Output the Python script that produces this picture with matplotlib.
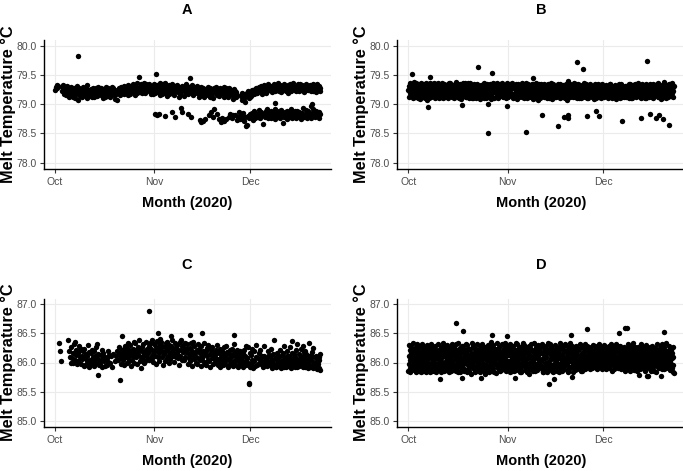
import matplotlib
matplotlib.use("Agg")
import matplotlib.pyplot as plt
import matplotlib.dates as mdates
from matplotlib.ticker import FormatStrFormatter
from datetime import datetime

# ---------------------------------------------------------------- data
# Readings per day: each string = one day's readings, in hundredths of a
# degree above the band's base temperature (day 0 = 1 Oct 2020).
A_UPPER_BASE, A_UPPER_FIRST_DAY = 79.00, 0
A_UPPER = [
    "25 29 33 27 31", "", "30 22 33 18 26", "24 15 29 20 32", "19 27 12 23 30",
    "16 25 21 13 28", "22 10 26 18 31", "08 20 27 14 24", "18 23 12 29 21", "25 15 20 27 11",
    "33 19 24 14 22", "17 26 13 21 28", "23 12 19 27 16", "14 22 29 18 25", "20 28 15 24 11",
    "26 17 22 13 30", "21 14 27 19 24", "12 24 18 29 22", "27 16 23 09 20", "18 07 25 21 28",
    "24 15 30 19 22", "20 27 17 32 25", "29 19 24 15 33", "22 31 18 27 25", "26 34 21 29 16",
    "31 23 37 19 28", "24 46 30 21 35", "33 20 27 36 24", "19 29 34 25 31", "27 35 22 30 18",
    "23 31 26 17 34", "28 19 52 25 33", "21 30 24 37 16", "31 18 27 34 23", "25 36 20 29 14",
    "30 22 33 17 26", "19 28 24 35 21", "26 15 31 22 29", "33 21 27 12 24", "18 29 23 32 26",
    "27 14 30 21 35", "22 31 17 26 28", "29 44 23 19 33", "16 25 30 22 27", "24 32 19 28 13",
    "21 27 15 30 24", "28 18 25 12 22", "19 26 21 29 15", "25 13 28 20 23", "17 24 11 27 21",
    "23 29 16 22 26", "14 21 27 18 25", "26 19 23 13 29", "20 28 15 24 18", "12 22 27 17 21",
    "24 16 20 09 26", "18 23 13 21 15", "", "14 08 19 12 17", "11 18 03 15 20",
    "16 22 10 19 13", "20 14 24 17 22", "23 17 26 20 28", "19 27 22 30 24", "25 21 31 18 27",
    "28 33 23 26 20", "22 30 25 34 27", "29 24 32 21 26", "26 35 28 23 31", "31 24 29 36 22",
    "27 33 21 30 25", "24 29 35 26 32", "30 22 27 33 19", "25 34 28 23 31", "32 26 37 29 24",
    "28 23 31 26 35", "22 30 27 34 25", "33 26 29 21 31", "27 35 24 30 28", "24 31 28 33 22",
    "30 26 34 23 29", "26 32 21 29 35", "29 24 31 27 22",
]

A_LOWER_BASE, A_LOWER_FIRST_DAY = 78.00, 31
A_LOWER = [
    "83 82", "83", "", "80", "", "86", "79", "", "93 86", "",
    "84", "78", "", "", "73 70", "71 74", "", "82 86", "78 91", "84",
    "74 70", "77 72", "75", "79 84", "76 81", "82 73", "78 86 74", "81 75 85", "72 79 62", "65 80 76 84",
    "78 85 73", "88 80 76 83", "84 78 90 81", "77 86 82", "67 83 79 88", "92 80 76 85", "82 89 77 84", "79 86 74 91", "85 81 78 88", "84 77 90 81",
    "68 83 79 87", "80 88 75 84", "86 79 92 82", "77 85 80 89", "83 76 88 81", "79 87 84 74", "85 81 93 78", "82 90 77 86", "88 80 84 97", "76 85 92 82",
    "84 79 88 81", "80 86 77 83",
]
A_OUT_DAY = [7.1, 68.7, 80.2]
A_OUT_TEMP = [79.82, 79.02, 79.00]

B_BASE, B_FIRST_DAY = 79.00, 0
B_DAYS = [
    "24 31 12 36 19 28 15 33 21", "17 29 35 11 26 22 38 14 30", "32 13 25 20 37 16 29 23 10",
    "21 34 15 28 09 31 18 36 25", "14 27 33 20 12 35 24 17 30", "29 11 22 36 18 26 32 13 08",
    "35 20 28 14 31 10 23 37 17", "12 25 34 19 27 15 30 22 36", "26 16 31 11 35 21 13 28 33",
    "19 32 24 37 14 29 10 26 20", "33 13 27 22 16 36 25 11 30", "15 28 35 18 24 12 32 20 27",
    "30 21 10 34 26 17 37 14 23", "22 36 16 29 12 31 19 27 13", "27 11 33 20 35 15 24 38 18",
    "16 30 23 13 28 34 11 21 32", "34 18 26 31 09 23 29 15 36", "20 35 14 25 32 17 37 22 12",
    "13 24 30 16 21 36 27 10 29", "28 15 37 23 13 26 19 33 11", "23 31 10 28 34 14 21 26 17",
    "11 26 19 35 22 29 13 31 24", "31 14 27 09 25 18 33 20 28", "18 33 22 29 11 36 15 25 13",
    "25 10 31 17 28 21 34 12 30", "14 29 24 35 16 31 20 27 09", "32 19 12 26 37 23 10 30 21",
    "21 34 27 13 30 18 25 36 15", "10 23 33 19 27 35 14 28 32", "29 16 21 36 12 25 31 18 24",
    "17 31 26 11 33 20 37 22 13", "26 12 35 23 18 30 15 34 27", "33 20 14 29 36 10 27 17 31",
    "12 27 31 16 24 34 21 09 29", "24 35 18 30 13 26 33 20 16", "30 15 26 21 37 12 19 28 35",
    "19 33 11 27 22 31 14 36 23", "27 10 29 34 16 24 32 13 20", "15 28 21 12 35 18 26 30 09",
    "34 22 16 31 25 11 29 19 36", "21 13 33 26 08 30 17 35 24", "11 31 24 17 29 35 22 14 27",
    "28 18 35 12 23 15 33 26 20", "16 26 10 30 19 34 24 11 32", "31 14 27 21 36 17 28 09 23",
    "23 34 18 13 26 31 12 29 16", "12 25 31 28 15 22 35 19 27", "29 17 22 35 10 27 14 32 21",
    "18 30 13 24 33 16 28 11 25", "26 11 34 19 22 29 08 31 15", "14 27 20 32 12 35 24 18 30",
    "33 21 15 26 30 13 19 36 23", "20 12 29 17 34 24 31 10 27", "27 35 19 11 25 16 33 22 14",
    "10 24 32 28 18 30 13 26 37", "31 16 23 13 35 21 28 11 25", "22 29 11 33 19 26 16 34 18",
    "15 32 27 20 12 31 23 29 09", "28 13 21 35 26 10 33 17 24", "19 26 34 14 30 22 12 28 31",
    "33 11 24 29 17 35 20 14 26", "12 28 18 22 31 15 27 33 20", "26 20 32 10 24 29 13 21 34",
    "21 34 14 27 19 11 31 25 16", "30 15 28 23 12 33 18 26 09", "14 25 20 31 28 16 24 35 22",
    "27 33 11 19 35 21 30 13 28", "17 22 29 12 26 32 15 24 19", "32 13 25 30 16 22 27 10 34",
    "23 29 17 35 11 27 20 31 14", "11 26 33 21 28 14 34 18 25", "29 18 12 25 32 20 23 36 15",
    "20 31 27 16 13 29 11 25 33", "34 14 22 29 24 17 32 21 10", "16 27 35 11 30 25 19 28 22",
    "25 12 19 33 21 35 14 30 27", "13 30 26 18 34 10 28 23 31", "31 23 15 28 20 32 17 35 12",
    "22 36 29 13 27 19 33 24 09", "18 25 10 32 15 28 21 38 26", "35 16 31 24 11 29 26 14 33",
    "27 21 13 35 30 17 34 20 23", "14 32 26 19 36 23 12 29 31",
]
B_OUT_DAY = [1.0, 6.8, 6.0, 16.9, 21.9, 24.8, 24.8, 26.0, 30.7, 36.8, 38.9, 41.9, 46.7,
             48.7, 49.8, 49.8, 49.8, 52.6, 54.7, 55.7, 58.6, 59.7, 66.7, 72.6, 74.7,
             75.5, 77.4, 78.3, 79.5, 81.6]
B_OUT_TEMP = [79.52, 79.46, 78.95, 78.98, 79.63, 78.50, 79.00, 79.54, 78.97, 78.53, 79.44,
              78.82, 78.63, 78.78, 78.82, 78.76, 79.40, 79.72, 79.60, 78.80, 78.89, 78.80,
              78.71, 78.77, 79.74, 78.83, 78.77, 78.82, 78.74, 78.65]

C_BASE, C_FIRST_DAY = 85.50, 1
C_DAYS = [
    "83 69 52", "", "", "89 70 60 50", "76 58 67 49 82", "85 55 72 63 47", "66 52 78 59 71",
    "48 74 61 56 69 44", "73 57 45 65 52", "62 80 50 43 68 55", "54 66 47 71 59", "70 44 61 53 76 49",
    "81 58 28 65 46 52", "47 63 55 71 42 59", "66 52 44 60 56", "58 45 69 51 63", "50 62 42", "64 53",
    "61 70 54 66", "77 20 63 48 58 72", "96 67 54 73 45 61 79", "60 76 49 68 57 84", "71 52 80 63 44 66",
    "55 74 62 85 50 69", "83 59 71 47 65 77", "64 88 53 72 60 41", "76 57 68 82 49 63", "52 70 86 61 74 56",
    "67 79 55 72 84 60", "74 58 88 65 51 70", "81 62 76 48 69 87", "59 73 84 66 53 78 90", "71 86 60 79 45 68",
    "64 77 52 83 70 57", "85 61 74 49 80 66", "56 79 68 88 62 73", "73 51 84 65 77 59", "80 67 58 72 46 86",
    "62 88 71 54 79 68", "77 55 69 83 60 74", "68 81 47 73 64 57", "53 75 84 61 70 44", "85 63 56 78 67 50",
    "60 72 48 82 58 69", "74 54 66 44 79 61", "57 70 83 51 64 47", "69 46 61 75 55 80", "52 77 64 43 71 58",
    "76 59 48 68 62 54", "63 49 72 56 80 45", "55 67 42 74 60 51", "70 53 64 46 58 77", "48 62 79 55 68 43",
    "66 45 57 71 52 63", "59 74 50 64 44 81", "53 68 46 60 72 55", "64 42 58 70 50", "47 61 54 66 43",
    "71 51 62 45 78 57", "58 76 49 15 13 67 43", "63 47 73 55 41", "52 69 44 60 80", "45 58 66 50",
    "71 48 55 62 43", "49 62 78 53 45 58", "57 44 69 51 63 47", "46 60 52 74 41 55", "64 50 88 45 58 42",
    "43 56 48 67 52 61 44", "59 45 72 50 41 63 53", "48 66 54 43 78 57 46", "55 42 61 49 70 44 58",
    "62 50 45 76 53 41 67", "44 87 57 48 64 52 42", "60 47 71 55 43 82 50", "52 64 44 58 49 73 45",
    "46 56 79 42 61 51 68", "70 43 53 65 47 57 41", "49 61 45 84 54 42 63", "57 44 68 51 40 75 48",
    "42 59 50 62 46 56 38", "53 47 60 41 55 37 64",
]
C_OUT_DAY = [29.3, 32.3, 36.2, 42.2, 46.0, 55.9]
C_OUT_TEMP = [86.88, 86.51, 86.46, 86.48, 86.50, 86.47]

D_BASE, D_FIRST_DAY = 85.50, 0
D_DAYS = [
    "35 62 48 80 41 71 55 33 67 44 76", "58 37 74 46 83 52 64 39 70 49 60", "43 69 56 34 77 61 47 82 38 65 53",
    "72 50 36 63 45 79 58 41 68 54 33", "39 81 60 48 70 35 57 75 44 66 51", "64 42 77 53 33 69 46 61 80 37 56",
    "50 73 38 66 57 43 78 34 62 48 71", "82 46 59 36 72 51 65 40 55 76 44", "36 63 49 78 42 67 33 58 71 47 60",
    "57 39 70 45 81 54 38 64 49 74 22", "45 76 52 34 63 71 41 59 83 48 67", "69 35 61 48 74 44 79 52 37 65 56",
    "41 58 80 39 66 53 45 72 60 33 77", "74 47 36 62 54 82 43 68 50 39 63", "53 70 44 77 37 60 73 46 57 81 35",
    "38 65 55 42 71 49 84 34 67 52 61", "62 33 75 57 46 68 40 79 53 44 70", "47 79 41 66 35 58 72 50 63 37 82",
    "70 52 64 34 80 45 59 38 74 56 43", "35 61 49 73 42 67 31 55 83 47 64", "58 44 78 52 39 62 75 41 68 33 53",
    "43 73 57 37 65 50 81 46 60 72 35", "66 38 47 79 55 34 63 70 42 58 76", "51 82 40 61 48 74 36 57 67 45 31",
    "77 46 68 35 59 43 71 53 80 39 62", "40 59 34 72 64 52 45 78 37 66 85", "63 36 75 49 41 80 56 33 69 50 73",
    "48 70 55 67 32 62 47 74 58 83 41", "72 43 61 38 77 46 68 52 35 64 54", "37 65 50 81 44 71 39 60 75 48 57",
    "59 49 84 42 66 35 73 55 46 79 63", "44 76 38 63 53 69 41 82 50 34 70", "68 52 45 74 36 58 78 43 64 56 39",
    "53 35 71 60 47 83 51 37 72 45 66", "81 61 40 55 69 42 64 76 33 59 48", "38 72 57 33 78 49 61 44 67 52 84",
    "62 45 80 51 37 73 54 68 40 77 35", "47 69 34 66 58 41 79 31 63 50 74", "75 38 62 46 82 55 44 70 53 36 60",
    "55 83 49 71 40 64 35 59 77 47 68", "41 57 73 37 61 80 48 65 43 72 52", "70 46 54 79 44 52 67 39 56 82 33",
    "34 66 43 60 75 38 58 74 49 63 45", "59 78 37 48 68 33 71 51 84 42 13", "46 54 81 65 39 57 45 76 36 61 70",
    "73 40 60 34 72 47 63 42 68 55 80", "39 62 52 77 45 69 36 58 74 48 33", "64 48 71 42 57 83 50 37 61 79 44",
    "52 35 66 59 38 74 44 70 46 56 81", "80 57 45 70 51 37 62 48 77 34 65", "36 74 58 39 84 53 71 43 55 66 97",
    "65 42 79 53 47 61 34 72 58 41 69", "48 68 37 63 56 78 46 64 38 73 52", "71 51 59 44 73 40 57 81 50 62 35",
    "43 77 50 67 35 65 48 55 69 44 60", "57 39 82 47 61 52 74 41 63 78 49", "62 46 70 54 43 76 58 38 71 51 67",
    "49 73 56 40 66 59 80 47 64 54 42", "68 55 44 78 52 69 45 73 59 39 75", "41 64 71 57 47 82 53 66 44 61 70",
    "74 48 60 67 38 56 76 50 69 46 58", "55 80 46 63 72 43 61 54 77 38 65", "63 51 74 44 58 70 49 68 40 79 53",
    "46 67 57 81 50 62 35 73 56 45 70", "72 39 64 53 76 47 68 42 60 82 51", "53 74 45 60 41 71 56 79 48 66 100",
    "61 48 79 38 67 54 73 44 63 50 57", "44 70 55 66 48 77 40 59 71 35 64", "69 52 42 75 60 46 81 55 38 67 58",
    "57 36 71 49 64 78 43 62 53 74 47", "40 65 58 83 45 56 70 37 66 51 76", "74 47 63 41 69 54 35 77 48 60 28",
    "52 68 43 72 56 39 64 50 81 45 61", "65 41 77 54 46 71 58 43 67 36 55", "46 73 60 38 80 49 62 75 53 27 69",
    "71 55 44 66 52 76 41 59 68 47 36", "39 62 79 48 63 43 74 56 35 70 58", "58 75 51 34 68 60 45 81 54 66 42",
    "67 44 70 57 40 73 52 64 47 78 26", "50 82 38 61 76 55 67 46 72 39 103", "76 53 64 45 58 83 41 69 56 48 62",
    "43 66 55 79 47 60 72 37 65 52 74", "62 48 71 40 57 67 33 76 45 59 32",
]
D_OUT_DAY = [14.9, 17.0, 26.0, 30.7, 55.7, 67.6, 68.3, 16.7, 22.8, 33.3, 45.5, 51.2, 74.6]
D_OUT_TEMP = [86.68, 86.55, 86.47, 86.45, 86.57, 86.60, 86.60, 85.73, 85.74, 85.73, 85.72, 85.75, 85.77]

TITLES = ["A", "B", "C", "D"]
Y_TICKS_TOP = [78.0, 78.5, 79.0, 79.5, 80.0]
Y_TICKS_BOTTOM = [85.0, 85.5, 86.0, 86.5, 87.0]
X_LABEL = "Month (2020)"
Y_LABEL = "Melt Temperature °C"

# ---------------------------------------------------------------- helpers
START = mdates.date2num(datetime(2020, 10, 1))


def expand(day_strings, first_day, base):
    xs, ys = [], []
    for i, s in enumerate(day_strings):
        vals = s.split()
        n = len(vals)
        for k, v in enumerate(vals):
            xs.append(START + first_day + i + (k + 0.5) / n)
            ys.append(base + int(v) / 100.0)
    return xs, ys


W, H = 683, 471
fig = plt.figure(figsize=(W / 100, H / 100), dpi=100)
fig.patch.set_facecolor("white")

FONT = ["Liberation Sans", "DejaVu Sans"]


def rect(l, r, t, b):
    return [l / W, 1 - b / H, (r - l) / W, (b - t) / H]


panels = [
    dict(title=TITLES[0], rect=rect(43.5, 330.5, 39.9, 168.55), ylim=(77.9, 80.1), yticks=Y_TICKS_TOP,
         bands=[(A_UPPER, A_UPPER_FIRST_DAY, A_UPPER_BASE), (A_LOWER, A_LOWER_FIRST_DAY, A_LOWER_BASE)],
         out=(A_OUT_DAY, A_OUT_TEMP), cx=187, ty=10, ly=8, xly=203),
    dict(title=TITLES[1], rect=rect(396.8, 683.8, 39.9, 168.55), ylim=(77.9, 80.1), yticks=Y_TICKS_TOP,
         bands=[(B_DAYS, B_FIRST_DAY, B_BASE)],
         out=(B_OUT_DAY, B_OUT_TEMP), cx=541, ty=10, ly=361, xly=203),
    dict(title=TITLES[2], rect=rect(43.5, 330.5, 298.5, 426.5), ylim=(84.9, 87.1), yticks=Y_TICKS_BOTTOM,
         bands=[(C_DAYS, C_FIRST_DAY, C_BASE)],
         out=(C_OUT_DAY, C_OUT_TEMP), cx=187, ty=265, ly=8, xly=461.5),
    dict(title=TITLES[3], rect=rect(396.8, 683.8, 298.5, 426.5), ylim=(84.9, 87.1), yticks=Y_TICKS_BOTTOM,
         bands=[(D_DAYS, D_FIRST_DAY, D_BASE)],
         out=(D_OUT_DAY, D_OUT_TEMP), cx=541, ty=265, ly=361, xly=461.5),
]

DOT = 15

for p in panels:
    ax = fig.add_axes(p["rect"])
    ax.set_facecolor("white")
    for days, first, base in p["bands"]:
        xs, ys = expand(days, first, base)
        ax.scatter(xs, ys, s=DOT, c="black", linewidths=0, zorder=3)
    od, ot = p["out"]
    ax.scatter([START + d for d in od], ot, s=DOT, c="black", linewidths=0, zorder=3)

    ax.set_xlim(START - 3.6, START + 86.1)
    ax.set_ylim(*p["ylim"])
    ax.set_yticks(p["yticks"])
    ax.yaxis.set_major_formatter(FormatStrFormatter("%.1f"))
    ax.xaxis.set_major_locator(mdates.MonthLocator())
    ax.xaxis.set_major_formatter(mdates.DateFormatter("%b"))
    ax.grid(True, color="#EBEBEB", lw=0.8)
    ax.set_axisbelow(True)
    for s in ("top", "right"):
        ax.spines[s].set_visible(False)
    for s in ("left", "bottom"):
        ax.spines[s].set_linewidth(1.0)
        ax.spines[s].set_color("black")
    ax.tick_params(length=2.8, width=0.8, color="#333333", labelcolor="#4D4D4D",
                   labelsize=7.5, pad=2)
    ax.tick_params(axis="x", pad=3.5)
    for lab in ax.get_xticklabels() + ax.get_yticklabels():
        lab.set_family(FONT)

    fig.text(p["cx"] / W, 1 - p["ty"] / H, p["title"], ha="center", va="center",
             fontsize=10.5, fontweight="bold", family=FONT)
    fig.text(p["cx"] / W, 1 - p["xly"] / H, X_LABEL, ha="center", va="center",
             fontsize=10.5, fontweight="bold", family=FONT)
    b = p["rect"]
    fig.text(p["ly"] / W, b[1] + b[3] / 2, Y_LABEL, rotation=90, ha="center", va="center",
             fontsize=11.8, fontweight="bold", family=FONT)

fig.savefig("out.png", dpi=100, facecolor="white")
